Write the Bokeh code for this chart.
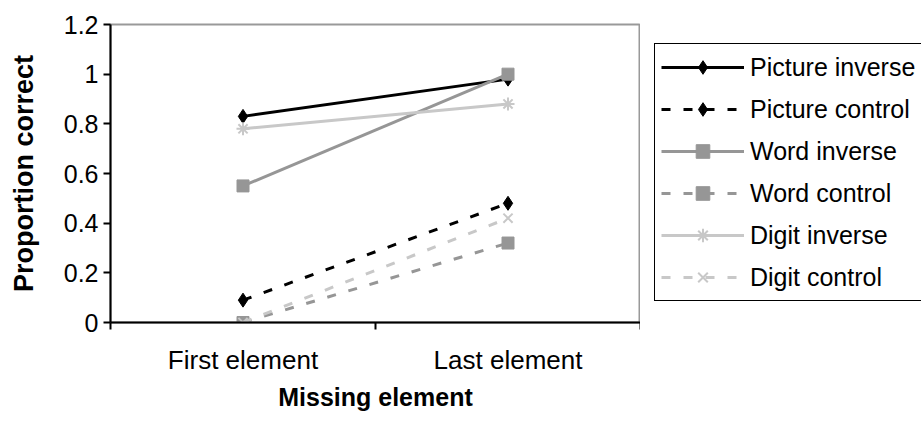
from bokeh.plotting import figure
from bokeh.layouts import row
from bokeh.models import Legend, LegendItem, FixedTicker, NumeralTickFormatter, Range1d
from bokeh.embed import file_html
from bokeh.resources import INLINE

categories = ["First element", "Last element"]
picture_inverse = [0.83, 0.98]
picture_control = [0.09, 0.48]
word_inverse = [0.55, 1.00]
word_control = [0.00, 0.32]
digit_inverse = [0.78, 0.88]
digit_control = [0.00, 0.42]
y_ticks = [0, 0.2, 0.4, 0.6, 0.8, 1.0, 1.2]

x_pos = [i + 0.5 for i in range(len(categories))]
x_bounds = list(range(len(categories) + 1))

FONT = "Liberation Sans"
BLACK = "#000000"
GREY = "#969696"
LIGHT = "#C8C8C8"
DASH = "9 13"

series = [
    ("Picture inverse", picture_inverse, BLACK, "solid", "diamond", 14),
    ("Picture control", picture_control, BLACK, DASH, "diamond", 14),
    ("Word inverse", word_inverse, GREY, "solid", "square", 12),
    ("Word control", word_control, GREY, DASH, "square", 12),
    ("Digit inverse", digit_inverse, LIGHT, "solid", "asterisk", 13),
    ("Digit control", digit_control, LIGHT, DASH, "x", 13),
]


def add_series(fig, visible=True):
    items = []
    for label, vals, col, dash, marker, size in series:
        lr = fig.line(x_pos, vals, line_color=col, line_width=3, line_dash=dash,
                      visible=visible)
        if marker in ("asterisk", "x"):
            sr = fig.scatter(x_pos, vals, marker=marker, size=size, line_color=col,
                             line_width=2, visible=visible)
        else:
            sr = fig.scatter(x_pos, vals, marker=marker, size=size, fill_color=col,
                             line_color=col, visible=visible)
        items.append(LegendItem(label=label, renderers=[lr, sr]))
    return items


p = figure(width=640, height=423, output_backend="svg", toolbar_location=None,
           x_range=Range1d(0, len(categories)), y_range=Range1d(0, 1.2),
           min_border_left=110, min_border_right=0, min_border_top=24,
           min_border_bottom=101)
p.background_fill_color = "white"
p.border_fill_color = "white"
p.outline_line_color = "#999999"
p.outline_line_width = 2
p.xgrid.visible = False
p.ygrid.visible = False
add_series(p)

# Y axis
yax = p.yaxis[0]
yax.ticker = FixedTicker(ticks=y_ticks)
yax.formatter = NumeralTickFormatter(format="0.[0]")
yax.axis_line_width = 2
yax.axis_line_color = BLACK
yax.major_tick_line_width = 2
yax.major_tick_out = 7
yax.major_tick_in = 0
yax.minor_tick_line_color = None
yax.major_label_text_font = FONT
yax.major_label_text_font_size = "25px"
yax.major_label_text_color = BLACK
yax.major_label_standoff = 5
yax.axis_label = "Proportion correct"
yax.axis_label_text_font = FONT
yax.axis_label_text_font_size = "27px"
yax.axis_label_text_font_style = "bold"
yax.axis_label_text_color = BLACK
yax.axis_label_standoff = 22

# X axis
xax = p.xaxis[0]
xax.ticker = FixedTicker(ticks=x_pos, minor_ticks=x_bounds)
xax.major_label_overrides = {xp: c for xp, c in zip(x_pos, categories)}
xax.axis_line_width = 2
xax.axis_line_color = BLACK
xax.major_tick_line_color = None
xax.major_tick_out = 0
xax.major_tick_in = 0
xax.minor_tick_line_width = 2
xax.minor_tick_line_color = BLACK
xax.minor_tick_out = 7
xax.minor_tick_in = 0
xax.major_label_text_font = FONT
xax.major_label_text_font_size = "26px"
xax.major_label_text_color = BLACK
xax.major_label_standoff = 15
xax.axis_label = "Missing element"
xax.axis_label_text_font = FONT
xax.axis_label_text_font_size = "25px"
xax.axis_label_text_font_style = "bold"
xax.axis_label_text_color = BLACK
xax.axis_label_standoff = 5

# Legend panel (separate figure holding only the legend)
q = figure(width=281, height=423, output_backend="svg", toolbar_location=None,
           x_range=Range1d(0, len(categories)), y_range=Range1d(0, 1.2),
           min_border=0)
q.axis.visible = False
q.grid.visible = False
q.outline_line_color = None
q.background_fill_color = "white"
q.border_fill_color = "white"
legend_items = add_series(q, visible=False)

legend = Legend(items=legend_items, location=(14, 21))
legend.click_policy = "none"
legend.margin = 0
legend.padding = 6
legend.spacing = 8
legend.glyph_width = 83
legend.glyph_height = 34
legend.label_height = 34
legend.label_standoff = 6
legend.label_text_font = FONT
legend.label_text_font_size = "25px"
legend.label_text_color = BLACK
legend.border_line_color = BLACK
legend.border_line_alpha = 1.0
legend.border_line_width = 1.5
legend.background_fill_color = "white"
legend.background_fill_alpha = 1
q.add_layout(legend)

layout = row(p, q, spacing=0)
open("out.html", "w").write(file_html(layout, INLINE))
